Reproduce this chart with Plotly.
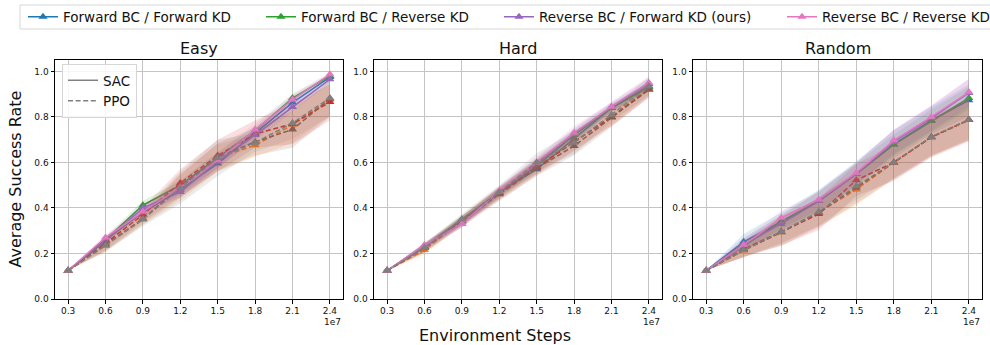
import plotly.graph_objects as go

# ---- data -------------------------------------------------------------
steps = [3e6, 6e6, 9e6, 1.2e7, 1.5e7, 1.8e7, 2.1e7, 2.4e7]
step_labels = ["0.3", "0.6", "0.9", "1.2", "1.5", "1.8", "2.1", "2.4"]
y_ticks = [0.0, 0.2, 0.4, 0.6, 0.8, 1.0]
y_tick_labels = ["0.0", "0.2", "0.4", "0.6", "0.8", "1.0"]

envs = ["Easy", "Hard", "Random"]
methods = [
    "Forward BC / Forward KD",
    "Forward BC / Reverse KD",
    "Reverse BC / Forward KD (ours)",
    "Reverse BC / Reverse KD",
]
sac_colors = ["#1f77b4", "#2ca02c", "#9467bd", "#e377c2"]
ppo_colors = ["#ff7f0e", "#d62728", "#8c564b", "#7f7f7f"]

# mean success rate per method (rows follow `methods`)
easy_sac = [
    [0.125, 0.26, 0.38, 0.48, 0.595, 0.73, 0.863, 0.975],
    [0.125, 0.26, 0.412, 0.50, 0.62, 0.74, 0.883, 0.98],
    [0.125, 0.255, 0.40, 0.47, 0.605, 0.72, 0.843, 0.965],
    [0.125, 0.27, 0.383, 0.49, 0.61, 0.745, 0.876, 0.987],
]
easy_ppo = [
    [0.125, 0.235, 0.355, 0.49, 0.62, 0.675, 0.765, 0.875],
    [0.125, 0.245, 0.37, 0.51, 0.63, 0.725, 0.77, 0.865],
    [0.125, 0.24, 0.35, 0.495, 0.625, 0.69, 0.745, 0.88],
    [0.125, 0.235, 0.35, 0.488, 0.62, 0.687, 0.773, 0.883],
]
hard_sac = [
    [0.125, 0.23, 0.35, 0.47, 0.57, 0.705, 0.84, 0.935],
    [0.125, 0.23, 0.345, 0.465, 0.585, 0.72, 0.84, 0.93],
    [0.125, 0.235, 0.33, 0.47, 0.595, 0.725, 0.845, 0.945],
    [0.125, 0.237, 0.33, 0.475, 0.60, 0.73, 0.845, 0.95],
]
hard_ppo = [
    [0.125, 0.215, 0.345, 0.465, 0.58, 0.69, 0.80, 0.925],
    [0.125, 0.225, 0.345, 0.465, 0.58, 0.69, 0.80, 0.92],
    [0.125, 0.225, 0.34, 0.46, 0.575, 0.672, 0.797, 0.92],
    [0.125, 0.225, 0.35, 0.47, 0.60, 0.687, 0.81, 0.935],
]
random_sac = [
    [0.125, 0.251, 0.34, 0.43, 0.55, 0.68, 0.785, 0.873],
    [0.125, 0.232, 0.34, 0.43, 0.55, 0.678, 0.782, 0.883],
    [0.125, 0.24, 0.33, 0.43, 0.55, 0.69, 0.795, 0.905],
    [0.125, 0.237, 0.357, 0.437, 0.554, 0.697, 0.80, 0.909],
]
random_ppo = [
    [0.125, 0.213, 0.293, 0.38, 0.481, 0.60, 0.71, 0.786],
    [0.125, 0.22, 0.295, 0.373, 0.522, 0.60, 0.712, 0.787],
    [0.125, 0.215, 0.293, 0.38, 0.49, 0.60, 0.711, 0.787],
    [0.125, 0.215, 0.295, 0.383, 0.496, 0.60, 0.712, 0.788],
]

# standard deviation across seeds
easy_sac_std = [
    [0.0, 0.010, 0.015, 0.020, 0.020, 0.020, 0.020, 0.010],
    [0.0, 0.012, 0.020, 0.020, 0.025, 0.020, 0.015, 0.010],
    [0.0, 0.010, 0.018, 0.025, 0.030, 0.025, 0.020, 0.015],
    [0.0, 0.012, 0.020, 0.030, 0.035, 0.030, 0.025, 0.010],
]
easy_ppo_std = [
    [0.0, 0.030, 0.030, 0.060, 0.060, 0.050, 0.080, 0.070],
    [0.0, 0.030, 0.030, 0.060, 0.070, 0.060, 0.090, 0.080],
    [0.0, 0.030, 0.020, 0.050, 0.060, 0.060, 0.080, 0.080],
    [0.0, 0.025, 0.030, 0.070, 0.080, 0.040, 0.070, 0.080],
]
hard_sac_std = [
    [0.0, 0.010, 0.015, 0.015, 0.020, 0.020, 0.015, 0.020],
    [0.0, 0.010, 0.015, 0.020, 0.020, 0.025, 0.020, 0.020],
    [0.0, 0.012, 0.015, 0.020, 0.025, 0.025, 0.020, 0.025],
    [0.0, 0.012, 0.018, 0.020, 0.025, 0.030, 0.020, 0.030],
]
hard_ppo_std = [
    [0.0, 0.020, 0.020, 0.025, 0.030, 0.035, 0.035, 0.030],
    [0.0, 0.020, 0.020, 0.030, 0.035, 0.040, 0.040, 0.035],
    [0.0, 0.020, 0.025, 0.030, 0.035, 0.040, 0.040, 0.035],
    [0.0, 0.020, 0.025, 0.030, 0.040, 0.050, 0.030, 0.040],
]
random_sac_std = [
    [0.0, 0.035, 0.040, 0.050, 0.055, 0.060, 0.060, 0.070],
    [0.0, 0.025, 0.030, 0.040, 0.045, 0.045, 0.050, 0.050],
    [0.0, 0.030, 0.035, 0.045, 0.050, 0.055, 0.055, 0.060],
    [0.0, 0.025, 0.030, 0.035, 0.045, 0.045, 0.050, 0.060],
]
random_ppo_std = [
    [0.0, 0.030, 0.050, 0.060, 0.070, 0.070, 0.080, 0.090],
    [0.0, 0.035, 0.060, 0.070, 0.070, 0.080, 0.090, 0.095],
    [0.0, 0.030, 0.060, 0.065, 0.070, 0.075, 0.085, 0.090],
    [0.0, 0.030, 0.050, 0.060, 0.060, 0.070, 0.080, 0.085],
]

sac_means = [easy_sac, hard_sac, random_sac]
ppo_means = [easy_ppo, hard_ppo, random_ppo]
sac_stds = [easy_sac_std, hard_sac_std, random_sac_std]
ppo_stds = [easy_ppo_std, hard_ppo_std, random_ppo_std]

# ---- layout geometry (pixels of a 990 x 345 canvas) -----------------
W, H = 990, 345
FONT = "DejaVu Sans"
panel_px = [(55, 343), (374, 662), (693, 982)]
plot_top, plot_bottom = 60, 299


def px_x(p):
    return p / W


def px_y(p):
    return 1 - p / H


def rgba(hex_color, a):
    h = hex_color.lstrip("#")
    r, g, b = int(h[0:2], 16), int(h[2:4], 16), int(h[4:6], 16)
    return f"rgba({r},{g},{b},{a})"


fig = go.Figure()
top_legends = ["legend", "legend2", "legend3", "legend4"]

for e, env in enumerate(envs):
    suffix = "" if e == 0 else str(e + 1)
    xref, yref = "x" + suffix, "y" + suffix
    for m, name in enumerate(methods):
        for algo, means, stds, colors, dash in (
            ("SAC", sac_means, sac_stds, sac_colors, "solid"),
            ("PPO", ppo_means, ppo_stds, ppo_colors, "5px,2.6px"),
        ):
            mean = means[e][m]
            std = stds[e][m]
            upper = [v + s for v, s in zip(mean, std)]
            lower = [v - s for v, s in zip(mean, std)]
            fig.add_trace(go.Scatter(
                x=steps + steps[::-1], y=upper + lower[::-1],
                fill="toself", fillcolor=rgba(colors[m], 0.15),
                line=dict(width=0), mode="lines", hoverinfo="skip",
                showlegend=False, xaxis=xref, yaxis=yref,
            ))
            show = (e == 0 and algo == "SAC")
            fig.add_trace(go.Scatter(
                x=steps, y=mean, mode="lines+markers", name=name,
                line=dict(color=colors[m], width=1.5, dash=dash),
                marker=dict(symbol="triangle-up", size=8, color=colors[m]),
                showlegend=show, legend=top_legends[m] if show else None,
                xaxis=xref, yaxis=yref,
            ))

# line-style key (SAC solid, PPO dashed)
for algo, dash in (("SAC", "solid"), ("PPO", "5px,2.6px")):
    fig.add_trace(go.Scatter(
        x=[None], y=[None], mode="lines", name=algo,
        line=dict(color="gray", width=1.5, dash=dash),
        legend="legend5", xaxis="x", yaxis="y",
    ))

axis_common = dict(
    showline=True, linecolor="black", linewidth=1, mirror=True,
    ticks="outside", ticklen=3.5, tickwidth=0.8, tickcolor="black",
    showgrid=True, gridcolor="#c4c4c4", gridwidth=1, zeroline=False,
    automargin=False,
    tickfont=dict(family=FONT, size=9, color="#111"),
)

layout = dict(
    width=W, height=H,
    margin=dict(l=0, r=0, t=0, b=0, autoexpand=False),
    paper_bgcolor="white", plot_bgcolor="white",
    font=dict(family=FONT, color="#111"),
    showlegend=True,
)
annotations = []
for e, env in enumerate(envs):
    suffix = "" if e == 0 else str(e + 1)
    x0, x1 = panel_px[e]
    layout["xaxis" + suffix] = dict(
        axis_common, domain=[px_x(x0), px_x(x1)], anchor="y" + suffix,
        range=[1.95e6, 2.505e7], tickmode="array",
        tickvals=steps, ticktext=step_labels,
    )
    layout["yaxis" + suffix] = dict(
        axis_common, domain=[px_y(plot_bottom), px_y(plot_top)],
        anchor="x" + suffix, range=[0, 1.05], tickmode="array",
        tickvals=y_ticks, ticktext=y_tick_labels,
    )
    annotations.append(dict(
        text=env, x=px_x((x0 + x1) / 2), y=px_y(48.5), xref="paper", yref="paper",
        showarrow=False, xanchor="center", yanchor="middle",
        font=dict(family=FONT, size=16, color="#111"),
    ))
    annotations.append(dict(
        text="1e7", x=px_x(x1), y=px_y(322), xref="paper", yref="paper",
        showarrow=False, xanchor="right", yanchor="middle",
        font=dict(family=FONT, size=9, color="#111"),
    ))

annotations.append(dict(
    text="Average Success Rate", x=px_x(15), y=px_y((plot_top + plot_bottom) / 2),
    xref="paper", yref="paper", showarrow=False, textangle=-90,
    xanchor="center", yanchor="middle",
    font=dict(family=FONT, size=16, color="#111"),
))
annotations.append(dict(
    text="Environment Steps", x=px_x(495), y=px_y(335),
    xref="paper", yref="paper", showarrow=False,
    xanchor="center", yanchor="middle",
    font=dict(family=FONT, size=16, color="#111"),
))
layout["annotations"] = annotations

# top legend: one entry per method, placed along a shared frame
legend_starts = [23, 261, 499, 782]
for name, start in zip(top_legends, legend_starts):
    layout[name] = dict(
        orientation="h", x=px_x(start), y=px_y(17), xanchor="left",
        yanchor="middle", bgcolor="rgba(0,0,0,0)", borderwidth=0,
        font=dict(family=FONT, size=13.5, color="#111"),
    )
layout["legend5"] = dict(
    x=px_x(62), y=px_y(64), xanchor="left", yanchor="top",
    bgcolor="rgba(255,255,255,0.85)", bordercolor="#d6d6d6", borderwidth=1,
    font=dict(family=FONT, size=13.5, color="#111"), tracegroupgap=0,
)
layout["shapes"] = [dict(
    type="rect", xref="paper", yref="paper", layer="below",
    x0=px_x(20), x1=px_x(1005), y0=px_y(29), y1=px_y(5),
    line=dict(color="#d6d6d6", width=1), fillcolor="white",
)]

fig.update_layout(**layout)
fig.write_html("out.html")
